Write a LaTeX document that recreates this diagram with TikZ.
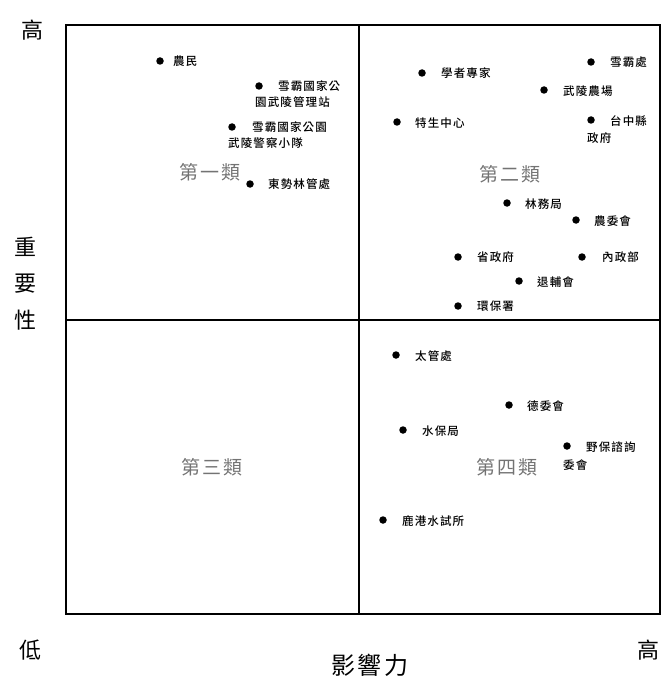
\documentclass[tikz,border=0pt]{standalone}
\usepackage{fontspec}
\setmainfont{Noto Sans CJK TC}
\newfontfamily\cjklab[LetterSpace=10]{Noto Sans CJK TC Medium}
\newfontfamily\cjkwide[LetterSpace=12]{Noto Sans CJK TC}
\usetikzlibrary{positioning}

\tikzset{every picture/.style={line width=0.75pt}}
\tikzset{
  dot/.style={circle,fill=black,inner sep=0pt,minimum size=7.5pt},
  lab/.style={anchor=west,inner sep=0.75pt,font=\cjklab\fontsize{11.5}{13}\selectfont},
  quad/.style={inner sep=0.75pt,text=black!55,font=\cjkwide\fontsize{19}{22}\selectfont},
  axis/.style={inner sep=0.75pt,font=\fontsize{22}{25}\selectfont}
}

\begin{document}
\begin{tikzpicture}[x=1pt,y=1pt,yscale=-1,xscale=1]
        \useasboundingbox (0,0) rectangle (664,679);

        %Quadrant frame
        \draw [line width=1.2pt] (66,25) rectangle (660,614) ;
        \draw [line width=1.2pt] (359,25) -- (359,614) ;
        \draw [line width=1.2pt] (66,320) -- (660,320) ;

        % Axis texts
        \node [axis] (hiY) at (32,30) {高};
        \node [axis] (imp1) at (25,247) {重};
        \node [axis] (imp2) at (25,284) {要};
        \node [axis] (imp3) at (25,320) {性};
        \node [axis] (loX) at (30,650) {低};
        \node [axis,font=\cjkwide\fontsize{24}{27}\selectfont] (infl) at (370,665) {影響力};
        \node [axis] (hiX) at (648,650) {高};

        % Quadrant names
        \node [quad] (q1) at (210,172) {第一類};
        \node [quad] (q2) at (510,174) {第二類};
        \node [quad] (q3) at (212,467) {第三類};
        \node [quad] (q4) at (507,467) {第四類};

        % Quadrant 1
        \node [dot] (d1) at (160,61) {};
        \node [lab] (l1) at (172,61) {農民};
        \node [dot] (d2) at (259,86) {};
        \node [lab] (l2) at (277,86) {雪霸國家公};
        \node [lab] (l2b) at (254,102) {園武陵管理站};
        \node [dot] (d3) at (232,127) {};
        \node [lab] (l3) at (251,127) {雪霸國家公園};
        \node [lab] (l3b) at (227,143) {武陵警察小隊};
        \node [dot] (d4) at (250,184) {};
        \node [lab] (l4) at (267,184) {東勢林管處};

        % Quadrant 2
        \node [dot] (d5) at (591,62) {};
        \node [lab] (l5) at (609,62) {雪霸處};
        \node [dot] (d6) at (422,73) {};
        \node [lab] (l6) at (440,73) {學者專家};
        \node [dot] (d7) at (544,90) {};
        \node [lab] (l7) at (562,91) {武陵農場};
        \node [dot] (d8) at (397,122) {};
        \node [lab] (l8) at (414,123) {特生中心};
        \node [dot] (d9) at (591,120) {};
        \node [lab] (l9) at (609,121) {台中縣};
        \node [lab] (l9b) at (586,138) {政府};
        \node [dot] (d10) at (507,203) {};
        \node [lab] (l10) at (524,204) {林務局};
        \node [dot] (d11) at (576,220) {};
        \node [lab] (l11) at (593,221) {農委會};
        \node [dot] (d12) at (458,257) {};
        \node [lab] (l12) at (476,257) {省政府};
        \node [dot] (d13) at (582,257) {};
        \node [lab] (l13) at (601,257) {內政部};
        \node [dot] (d14) at (519,281) {};
        \node [lab] (l14) at (536,282) {退輔會};
        \node [dot] (d15) at (458,306) {};
        \node [lab] (l15) at (476,306) {環保署};

        % Quadrant 4
        \node [dot] (d16) at (396,355) {};
        \node [lab] (l16) at (414,356) {太管處};
        \node [dot] (d17) at (509,405) {};
        \node [lab] (l17) at (526,406) {德委會};
        \node [dot] (d18) at (403,430) {};
        \node [lab] (l18) at (421,431) {水保局};
        \node [dot] (d19) at (567,446) {};
        \node [lab] (l19) at (585,447) {野保諮詢};
        \node [lab] (l19b) at (562,465) {委會};
        \node [dot] (d20) at (383,520) {};
        \node [lab] (l20) at (401,521) {鹿港水試所};

    \end{tikzpicture}
\end{document}
